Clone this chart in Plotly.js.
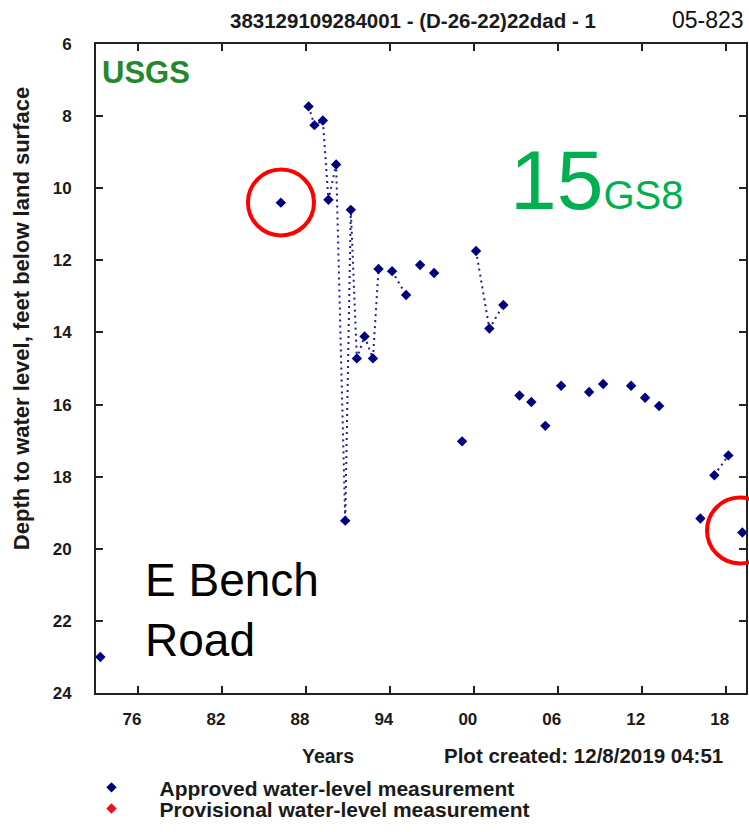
<!DOCTYPE html>
<html>
<head>
<meta charset="utf-8">
<script src="https://cdn.plot.ly/plotly-3.0.1.min.js"></script>
<style>html,body{margin:0;padding:0;background:#fff;}#chart{width:749px;height:832px;}</style>
</head>
<body>
<div id="chart"></div>
<script>
// Measurement dates (decimal years) and depth to water level (feet below land surface)
const years = [1973.31, 1986.21, 1988.19, 1988.61, 1989.21, 1989.61, 1990.16, 1990.81, 1991.21, 1991.64,
  1992.19, 1992.79, 1993.19, 1994.16, 1995.16, 1996.16, 1997.16, 1999.16, 2000.16, 2001.11,
  2002.11, 2003.26, 2004.11, 2005.11, 2006.24, 2008.24, 2009.24, 2011.24, 2012.24, 2013.24,
  2016.19, 2017.19, 2018.19, 2019.19];
const depths = [23.0, 10.40, 7.73, 8.25, 8.12, 10.32, 9.34, 19.22, 10.60, 14.72,
  14.11, 14.72, 12.24, 12.30, 12.96, 12.13, 12.35, 17.02, 11.74, 13.89,
  13.24, 15.75, 15.93, 16.59, 15.48, 15.65, 15.43, 15.48, 15.81, 16.04,
  19.16, 17.96, 17.41, 19.55];
// connected-line group of each measurement (0 = not connected)
const segment = [0, 0, 1, 1, 1, 1, 1, 1, 1, 1,
  1, 1, 1, 2, 2, 0, 0, 0, 3, 3,
  3, 0, 0, 0, 0, 0, 0, 0, 0, 0,
  0, 4, 4, 0];

const xTickVals = [1976, 1982, 1988, 1994, 2000, 2006, 2012, 2018];
const xTickText = ['76', '82', '88', '94', '00', '06', '12', '18'];
const yTickVals = [6, 8, 10, 12, 14, 16, 18, 20, 22, 24];

// build dotted connecting line with gaps
const lx = [], ly = [];
for (let i = 0; i < years.length; i++) {
  if (segment[i] === 0) continue;
  if (lx.length && segment[i - 1] !== segment[i]) { lx.push(null); ly.push(null); }
  lx.push(years[i]); ly.push(depths[i]);
}

const NAVY = '#00007f';
const FONT = 'Liberation Sans, Arial, sans-serif';
const legendFont = { family: FONT, size: 21, color: '#1a1a1a', weight: 'bold' };

const traces = [
  { x: lx, y: ly, mode: 'lines', line: { color: '#1f1f95', width: 2, dash: '2px,4px' },
    connectgaps: false, showlegend: false, hoverinfo: 'skip' },
  { x: years, y: depths, mode: 'markers', name: 'Approved water-level measurement',
    marker: { symbol: 'diamond', size: 8, color: NAVY }, legend: 'legend' },
  { x: [null], y: [null], mode: 'markers', name: 'Provisional water-level measurement',
    marker: { symbol: 'diamond', size: 8, color: '#e8141b' }, legend: 'legend2', showlegend: true }
];

const axisCommon = {
  showline: true, mirror: 'ticks', linecolor: '#222', linewidth: 2,
  ticks: 'inside', ticklen: 7, tickwidth: 2, tickcolor: '#222',
  showgrid: false, zeroline: false, fixedrange: true,
  tickfont: { family: FONT, size: 17, color: '#1a1a1a', weight: 'bold' }
};

const layout = {
  width: 749, height: 832,
  margin: { l: 96, r: 3, t: 44, b: 137 },
  paper_bgcolor: '#fff', plot_bgcolor: '#fff',
  xaxis: Object.assign({}, axisCommon, {
    range: [1973.0, 2019.45], tickmode: 'array', tickvals: xTickVals, ticktext: xTickText,
    ticklabelstandoff: 10, ticklabelshift: -6
  }),
  yaxis: Object.assign({}, axisCommon, {
    range: [24, 6], tickmode: 'array', tickvals: yTickVals,
    ticklabelstandoff: 19
  }),
  showlegend: true,
  legend: {
    x: -0.05, xanchor: 'left', y: -0.1459, yanchor: 'middle',
    itemwidth: 86, font: legendFont, bgcolor: 'rgba(0,0,0,0)'
  },
  legend2: {
    x: -0.05, xanchor: 'left', y: -0.2100, yanchor: 'bottom',
    itemwidth: 86, font: legendFont, bgcolor: 'rgba(0,0,0,0)'
  },
  annotations: [
    { xref: 'paper', yref: 'paper', x: -0.1154, y: 0.5776, xanchor: 'center', yanchor: 'middle',
      text: 'Depth to water level, feet below land surface', textangle: -90, showarrow: false,
      font: { family: FONT, size: 22, color: '#1a1a1a', weight: 'bold' } },
    { xref: 'paper', yref: 'paper', x: 0.4877, y: 1.0369, xanchor: 'center', yanchor: 'middle',
      text: '383129109284001 - (D-26-22)22dad - 1', showarrow: false,
      font: { family: FONT, size: 20.5, color: '#1a1a1a', weight: 'bold' } },
    { xref: 'paper', yref: 'paper', x: 1.0, y: 1.0369, xanchor: 'right', yanchor: 'middle',
      text: '05-823', showarrow: false, font: { family: FONT, size: 23, color: '#111' } },
    { xref: 'paper', yref: 'paper', x: 0.006, y: 0.9555, xanchor: 'left', yanchor: 'middle',
      text: 'USGS', showarrow: false,
      font: { family: FONT, size: 31, color: '#23882b', weight: 'bold' } },
    { xref: 'paper', yref: 'paper', x: 0.634, y: 0.79, xanchor: 'left', yanchor: 'middle',
      text: '15<span style="font-size:40px">GS8</span>', showarrow: false,
      font: { family: FONT, size: 84, color: '#00b050' } },
    { xref: 'paper', yref: 'paper', x: 0.072, y: 0.128, xanchor: 'left', yanchor: 'middle',
      text: 'E Bench<br>Road', align: 'left', showarrow: false,
      font: { family: FONT, size: 46, color: '#000' } },
    { xref: 'paper', yref: 'paper', x: 0.357, y: -0.0968, xanchor: 'center', yanchor: 'middle',
      text: 'Years', showarrow: false,
      font: { family: FONT, size: 19.5, color: '#1a1a1a', weight: 'bold' } },
    { xref: 'paper', yref: 'paper', x: 0.9677, y: -0.0968, xanchor: 'right', yanchor: 'middle',
      text: 'Plot created: 12/8/2019 04:51', showarrow: false,
      font: { family: FONT, size: 20.5, color: '#1a1a1a', weight: 'bold' } }
  ],
  shapes: [
    { type: 'circle', xref: 'paper', yref: 'paper', x0: 0.2338, x1: 0.3354, y0: 0.7051, y1: 0.8065,
      line: { color: '#ff0000', width: 4 } },
    { type: 'circle', xref: 'paper', yref: 'paper', x0: 0.9400, x1: 1.0415, y0: 0.1997, y1: 0.3011,
      line: { color: '#ff0000', width: 4 } }
  ]
};

Plotly.newPlot('chart', traces, layout, { displayModeBar: false, staticPlot: true });
</script>
</body>
</html>
